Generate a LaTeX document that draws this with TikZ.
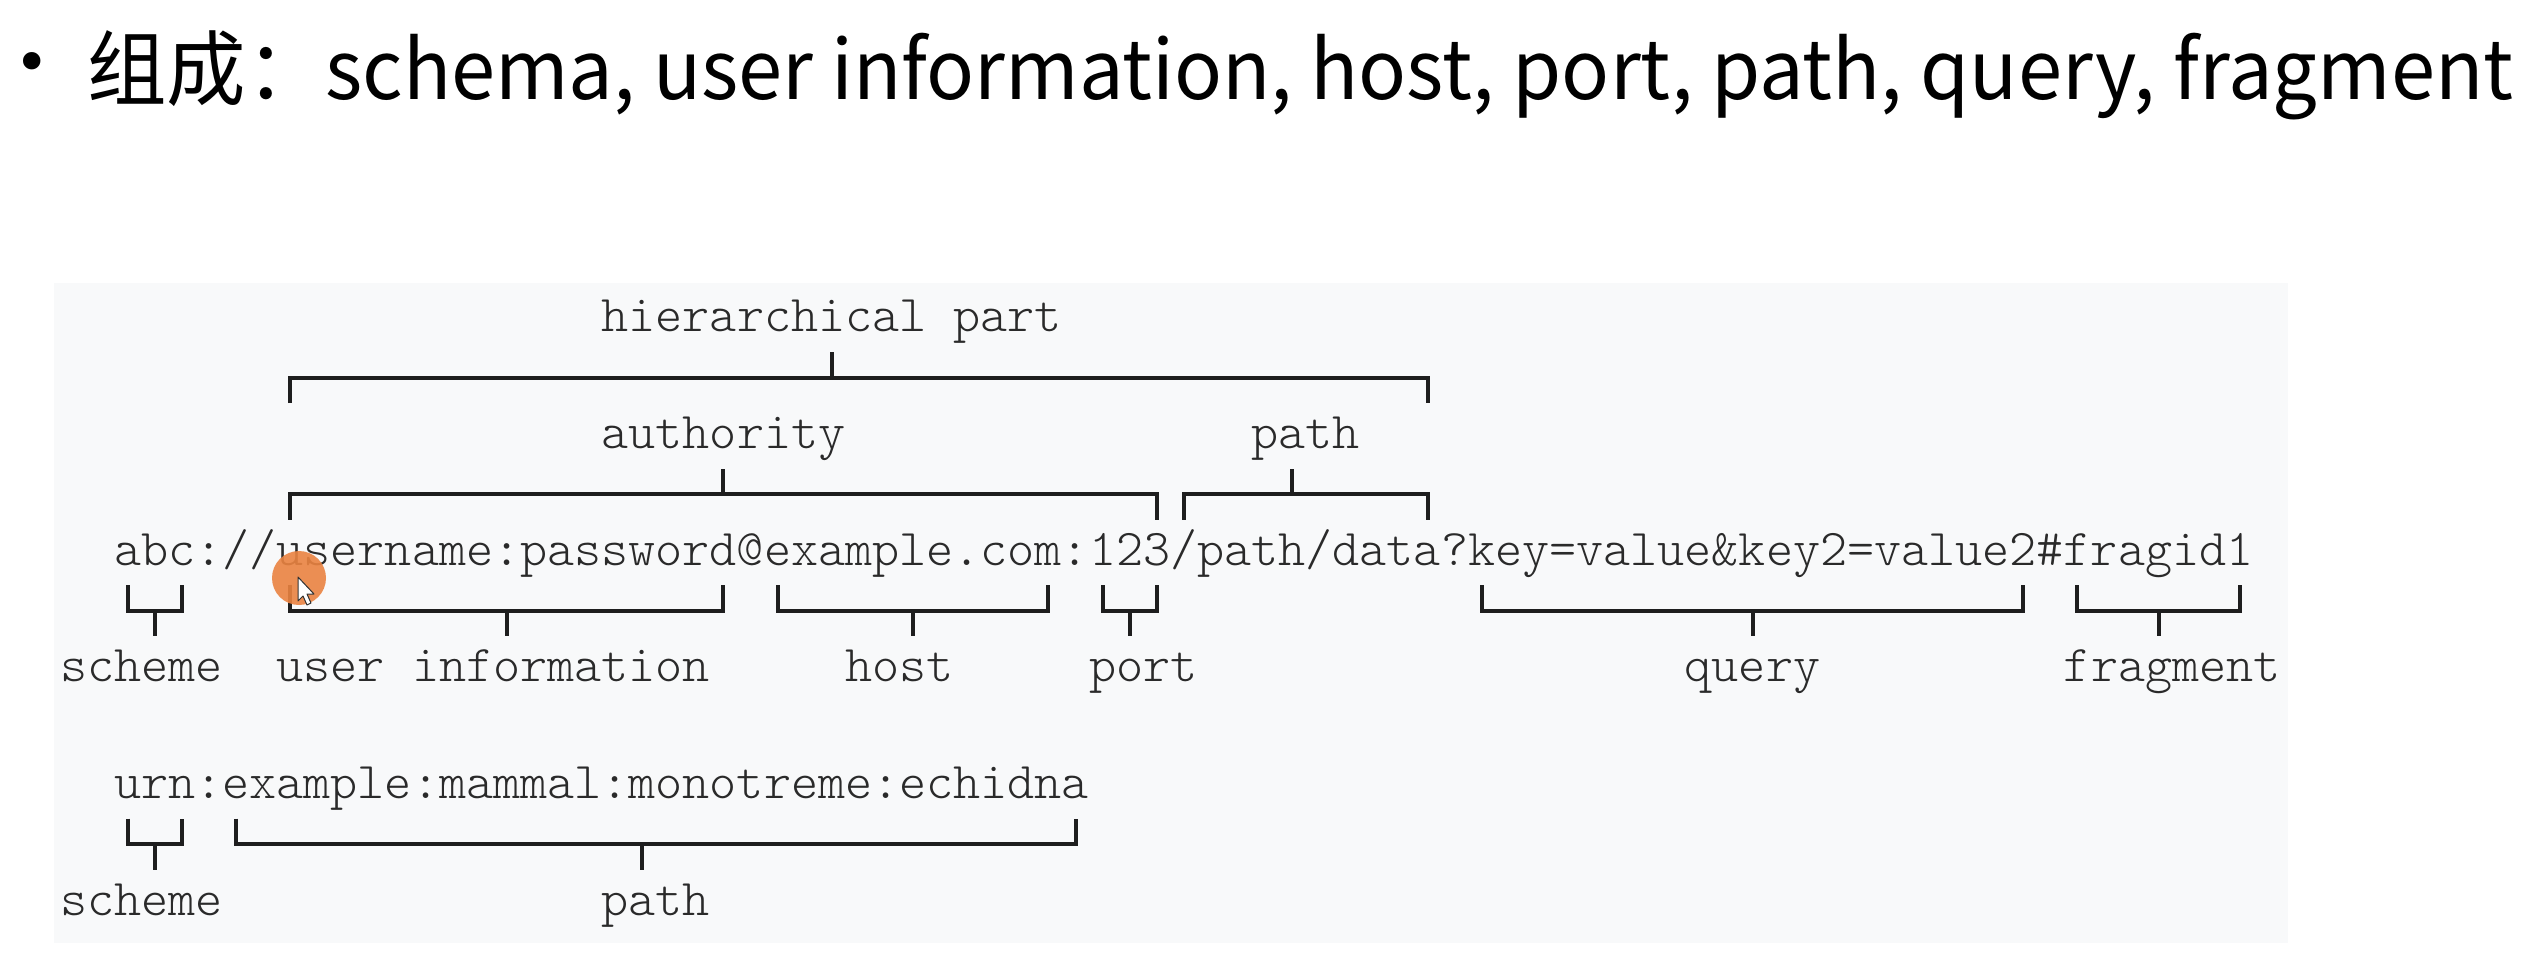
\documentclass[tikz,border=0pt]{standalone}
\usepackage{fontspec}
\usepackage{graphicx}
\newfontfamily\cjkfont{Noto Sans CJK SC}
\newfontfamily\bulletfont{DejaVu Sans}
\newfontfamily\monofont{Latin Modern Mono Light}
\definecolor{boxbg}{HTML}{F8F9FA}
\definecolor{monotext}{HTML}{2A2A2A}
\definecolor{bracketcol}{HTML}{1E1E1E}
\definecolor{dotorange}{HTML}{EA8341}
\begin{document}
\begin{tikzpicture}[x=1pt,y=-1pt,
  mono/.style={inner sep=0pt, outer sep=0pt, anchor=base west, text=monotext,
    font=\monofont\fontsize{51.58}{60}\selectfont},
  brk/.style={draw=bracketcol, line width=4pt, line cap=butt, line join=miter},
]
\def\cw{27.08}
\def\xz{60}
% column left edge and centre
\newcommand{\xl}[1]{\xz+\cw*#1}
\newcommand{\xc}[1]{\xz+\cw*(#1+0.5)}
% top bracket: left, mid, right, baseline
\newcommand{\topbrk}[4]{%
  \draw[brk] ({\xc{#1}},{#4+13}) -- ({\xc{#1}},{#4-12.5}) -- ({\xc{#3}},{#4-12.5}) -- ({\xc{#3}},{#4+13});
  \draw[brk] ({\xc{#2}},{#4-12.5}) -- ({\xc{#2}},{#4-38});}
\newcommand{\botbrk}[4]{%
  \draw[brk] ({\xc{#1}},{#4-38}) -- ({\xc{#1}},{#4-12.5}) -- ({\xc{#3}},{#4-12.5}) -- ({\xc{#3}},{#4-38});
  \draw[brk] ({\xc{#2}},{#4-12.5}) -- ({\xc{#2}},{#4+13});}

\useasboundingbox[fill=white] (0,0) rectangle (2526,956);
\fill[boxbg] (54,283) rectangle (2288,943);

% title
\node[inner sep=0pt, anchor=center, font=\bulletfont\fontsize{60}{70}\selectfont] (bullet) at (32,68) {•};
\node[inner sep=0pt, anchor=base west, font=\cjkfont\fontsize{82}{96}\selectfont] (title) at (87,99)
  {\resizebox{2426pt}{\height}{组成：schema, user information, host, port, path, query, fragment}};

% rows
\def\rA{331.7}
\def\rB{390}
\def\rC{448.3}
\def\rD{506.6}
\def\rE{565}
\def\rF{623.3}
\def\rG{681.7}
\def\rI{798.3}
\def\rJ{856.6}
\def\rK{915}

\node[mono] (hier) at ({\xl{20}},\rA) {hierarchical part};
\node[mono] (auth) at ({\xl{20}},\rC) {authority};
\node[mono] (path1) at ({\xl{44}},\rC) {path};
\node[mono] (url) at ({\xl{2}},\rE) {abc://username:password@example.com:123/path/data?key=value\&key2=value2\#fragid1};
\node[mono] (scheme1) at ({\xl{0}},\rG) {scheme};
\node[mono] (userinfo) at ({\xl{8}},\rG) {user information};
\node[mono] (host) at ({\xl{29}},\rG) {host};
\node[mono] (port) at ({\xl{38}},\rG) {port};
\node[mono] (query) at ({\xl{60}},\rG) {query};
\node[mono] (frag) at ({\xl{74}},\rG) {fragment};
\node[mono] (urn) at ({\xl{2}},\rI) {urn:example:mammal:monotreme:echidna};
\node[mono] (scheme2) at ({\xl{0}},\rK) {scheme};
\node[mono] (path2) at ({\xl{20}},\rK) {path};

% brackets
\topbrk{8}{28}{50}{\rB}
\topbrk{8}{24}{40}{\rD}
\topbrk{41}{45}{50}{\rD}
\botbrk{2}{3}{4}{\rF}
\botbrk{8}{16}{24}{\rF}
\botbrk{26}{31}{36}{\rF}
\botbrk{38}{39}{40}{\rF}
\botbrk{52}{62}{72}{\rF}
\botbrk{74}{77}{80}{\rF}
\botbrk{2}{3}{4}{\rJ}
\botbrk{6}{21}{37}{\rJ}

% mouse pointer marker
\fill[dotorange, opacity=0.9] (299,578) circle (27);
\draw[fill=white, draw=black!80, line width=1pt, line join=round]
  (298,577) -- (298,601) -- (303,596) -- (307,605) -- (311,603) -- (307,594) -- (314,594) -- cycle;
\end{tikzpicture}
\end{document}
